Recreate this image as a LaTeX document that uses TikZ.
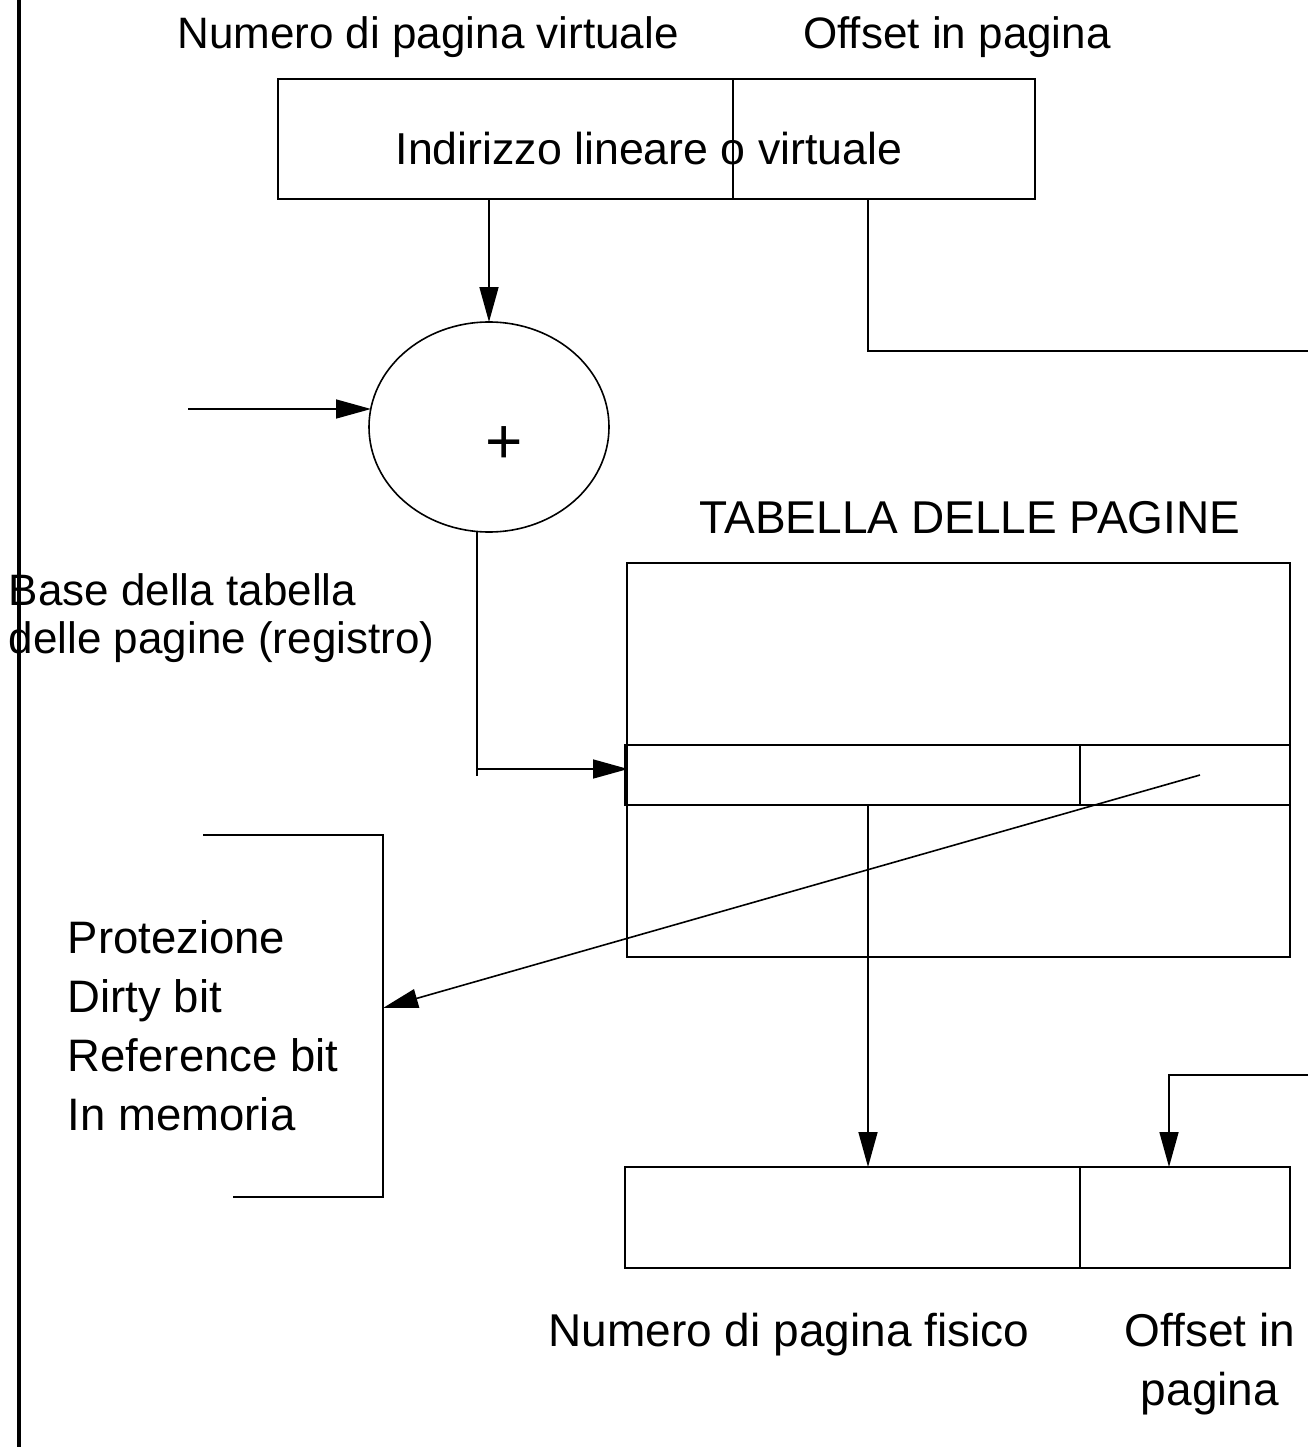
\documentclass[tikz,border=0pt]{standalone}
\usepackage{fontspec}
\setmainfont{Liberation Sans}
\usetikzlibrary{arrows.meta,calc,shapes.geometric}

\begin{document}
\begin{tikzpicture}[x=1pt,y=-1pt,
  line width=1.6pt,
  every node/.style={font=\fontsize{44}{53}\selectfont},
  big/.style={font=\fontsize{46}{55}\selectfont},
  frame/.style={draw,rectangle,inner sep=0pt,outer sep=0pt},
  label/.style={inner sep=0pt,anchor=base},
  lefttext/.style={inner sep=0pt,anchor=base west},
  conn/.style={draw},
  arr/.style={draw,-{Triangle[length=35pt,width=19pt]}}]

\useasboundingbox (0,0) rectangle (1308,1447);

% left margin rule
\draw[line width=4pt] (19,0) -- (19,1447);

% virtual address
\node[label] (vpnlab) at (428,49) {Numero di pagina virtuale};
\node[label] (offlab) at (957,49) {Offset in pagina};
\node[frame,minimum width=757pt,minimum height=120pt] (va) at (656.5,139) {};
\node[label,font=\fontsize{44.7}{53}\selectfont] (valab) at (649,165) {Indirizzo lineare o virtuale};
\draw (va.north -| 733,0) -- (va.south -| 733,0);

% adder
\node[draw,ellipse,minimum width=240pt,minimum height=210pt,inner sep=0pt,outer sep=0pt] (sum) at (489,427) {};
\node[inner sep=0pt,font=\fontsize{64}{70}\selectfont] (plus) at (504,445) {+};
\coordinate (inA) at (188,409);
\coordinate (sumIn) at (371,409);
\draw[arr] (inA) -- (sumIn);
\draw[arr] (va.south -| sum.north) -- (sum.north);

% page-table base register label
\node[lefttext] (base1) at (8,605) {Base della tabella};
\node[lefttext] (base2) at (8,653) {delle pagine (registro)};

% offset route to the right edge
\coordinate (rightA) at (1308,351);
\draw[conn] (va.south -| 868,0) |- (rightA);

% page table
\node[label,big] (ptlab) at (970,533) {TABELLA DELLE PAGINE};
\node[frame,minimum width=663pt,minimum height=394pt] (pt) at (958.5,760) {};
\node[frame,minimum width=665pt,minimum height=60pt] (row) at (957.5,775) {};
\draw (row.north -| 1080,0) -- (row.south -| 1080,0);

% adder output into the table entry
\coordinate (bend) at (477,769);
\coordinate (rowIn) at (628,769);
\draw[conn] (sum.south -| bend) -- ($(bend)+(0,7)$);
\draw[arr] (bend) -- (rowIn);

% flag bits bracket
\coordinate (brTopL) at (203,835);
\coordinate (brTop) at (383,835);
\coordinate (brBot) at (383,1197);
\coordinate (brBotL) at (233,1197);
\draw[conn] (brTopL) -- (brTop) -- (brBot) -- (brBotL);
\begin{scope}[every node/.style={font=\fontsize{45.5}{55}\selectfont}]
\node[lefttext] (f1) at (67,953) {Protezione};
\node[lefttext] (f2) at (67,1012) {Dirty bit};
\node[lefttext] (f3) at (67,1071) {Reference bit};
\node[lefttext] (f4) at (67,1130) {In memoria};
\end{scope}
\coordinate (flagSrc) at (1200,775);
\coordinate (flagIn) at (383,1008);
\draw[arr] (flagSrc) -- (flagIn);

% physical address
\node[frame,minimum width=665pt,minimum height=101pt] (pa) at (957.5,1217.5) {};
\draw (pa.north -| 1080,0) -- (pa.south -| 1080,0);
\draw[arr] (row.south -| 868,0) -- (pa.north -| 868,0);
\coordinate (rightB) at (1308,1075);
\draw[arr] (rightB) -| (pa.north -| 1169,0);

\node[label,big] (ppnlab) at (789,1346) {Numero di pagina fisico};
\node[label,big] (pofflab1) at (1210,1346) {Offset in};
\node[label,big] (pofflab2) at (1210,1405) {pagina};
\end{tikzpicture}
\end{document}
